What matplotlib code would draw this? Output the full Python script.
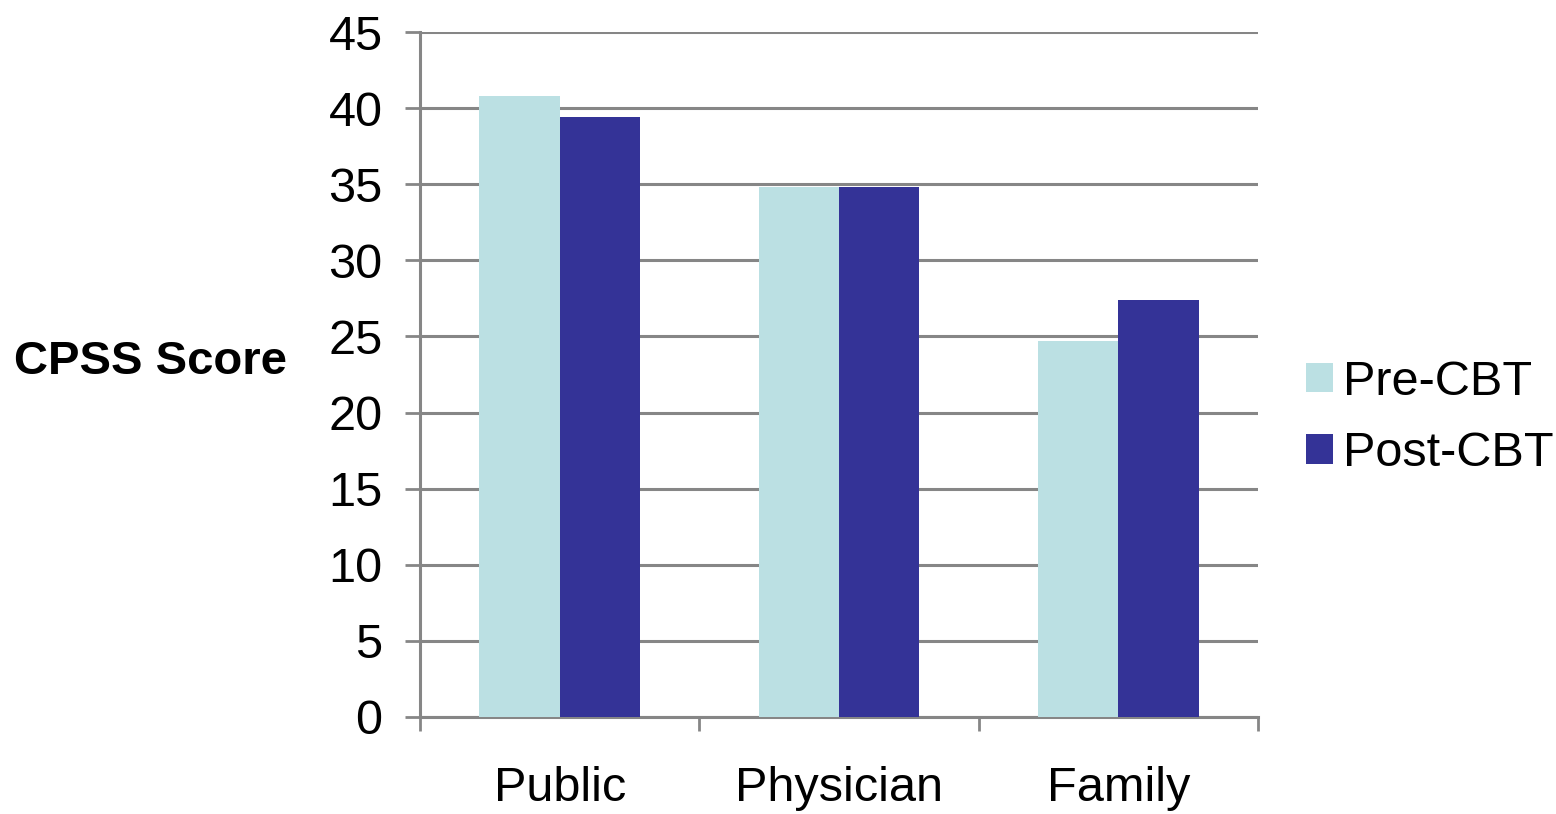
import matplotlib
matplotlib.use("Agg")
import matplotlib.pyplot as plt
import numpy as np
from matplotlib.patches import Patch

categories = ["Public", "Physician", "Family"]
pre_cbt = [40.8, 34.8, 24.7]
post_cbt = [39.4, 34.8, 27.4]
series_names = ["Pre-CBT", "Post-CBT"]
yticks = [0, 5, 10, 15, 20, 25, 30, 35, 40, 45]

plt.rcParams['font.family'] = ['Liberation Sans', 'DejaVu Sans']

GRAY = "#868686"
PRE_C = "#BBE0E3"
POST_C = "#343397"

fig = plt.figure(figsize=(15.56, 8.14), dpi=100)
ax = fig.add_axes([420/1556, 1-717/814, (1258-420)/1556, (717-32)/814])

x = np.arange(len(categories))
w = 0.288
ax.bar(x - w/2, pre_cbt, width=w, color=PRE_C, zorder=3)
ax.bar(x + w/2, post_cbt, width=w, color=POST_C, zorder=3)

ax.set_xlim(-0.5, len(categories) - 0.5)
ax.set_ylim(0, 45)
ax.set_yticks(yticks)
ax.set_yticklabels([str(v) for v in yticks], fontsize=35)
ax.yaxis.grid(True, color=GRAY, linewidth=2.2, zorder=0)
ax.set_axisbelow(True)

ax.set_xticks(x)
ax.set_xticklabels(categories, fontsize=35)
ax.set_xticks(np.arange(len(categories) + 1) - 0.5, minor=True)
ax.tick_params(axis='x', which='major', length=0, pad=35)
ax.tick_params(axis='x', which='minor', length=10, width=2, color=GRAY)
ax.tick_params(axis='y', length=11, width=2, color=GRAY, pad=16)

for s in ['top', 'right']:
    ax.spines[s].set_visible(False)
for s in ['left', 'bottom']:
    ax.spines[s].set_color(GRAY)
    ax.spines[s].set_linewidth(2.2)

fig.text(151/1556, 1-362/814, "CPSS Score", fontsize=34, fontweight='bold',
         ha='center', va='center')

handles = [Patch(facecolor=PRE_C, edgecolor='none'),
           Patch(facecolor=POST_C, edgecolor='none')]
fig.legend(handles, series_names, loc='center left',
           bbox_to_anchor=(1306/1556, 1-418/814), frameon=False,
           fontsize=35, handlelength=0.56, handleheight=0.56,
           handletextpad=0.2, labelspacing=0.55, borderpad=0, borderaxespad=0)

fig.savefig("out.png", dpi=100)
